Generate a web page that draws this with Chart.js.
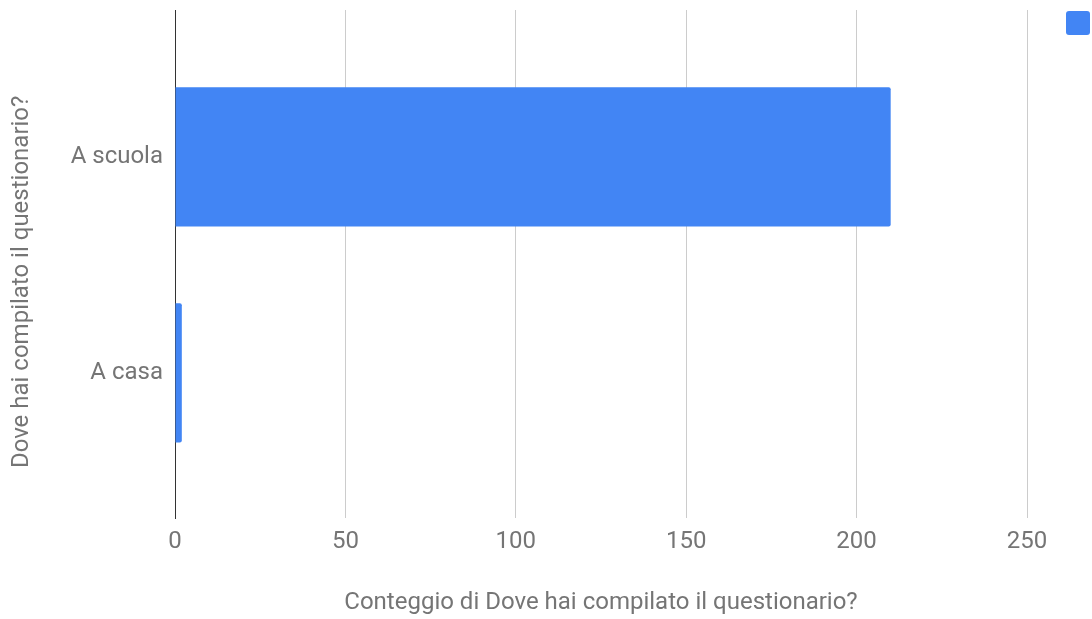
<!DOCTYPE html>
<html>
<head>
<meta charset="utf-8">
<script src="https://cdn.jsdelivr.net/npm/chart.js@4"></script>
<style>
  html, body { margin: 0; padding: 0; background: #fff; }
  #wrap { width: 1092px; height: 619px; }
</style>
</head>
<body>
<div id="wrap"><canvas id="myChart"></canvas></div>
<script>
// dati
var categorie = ['A scuola', 'A casa'];
var conteggi = [210, 2];
var titoloX = 'Conteggio di Dove hai compilato il questionario?';
var titoloY = 'Dove hai compilato il questionario?';

var grigio = '#757575';
var blu = '#4285f4';

// piccolo quadrato di legenda in alto a destra (il testo esce dall'immagine)
var legendaQuadrato = {
    id: 'legendaQuadrato',
    afterDraw: function (chart) {
        var ctx = chart.ctx;
        var colore = chart.data.datasets[0].backgroundColor;
        var lato = 24;
        var x = chart.width - lato - 2;
        var y = 11;
        ctx.save();
        ctx.fillStyle = colore;
        ctx.beginPath();
        ctx.roundRect(x, y, lato, lato, 3);
        ctx.fill();
        ctx.restore();
    }
};

function grafico (labels, valori) {
    var ctx = document.getElementById('myChart').getContext('2d');
    var punti = valori.map(function (v, i) { return {x: v, y: i}; });
    var chart = new Chart(ctx, {
        type: 'bar',
        data: {
            datasets: [{
                label: titoloX,
                backgroundColor: blu,
                borderColor: blu,
                borderRadius: 2,
                borderSkipped: 'start',
                categoryPercentage: 1,
                barPercentage: 0.644,
                data: punti
            }]
        },
        plugins: [legendaQuadrato],
        options: {
            indexAxis: 'y',
            responsive: true,
            maintainAspectRatio: false,
            animation: false,
            layout: { padding: { left: 4, top: 10, right: 65, bottom: 0 } },
            plugins: {
                legend: { display: false },
                tooltip: { enabled: false }
            },
            scales: {
                x: {
                    type: 'linear',
                    min: 0,
                    max: 250,
                    ticks: {
                        stepSize: 50,
                        color: grigio,
                        padding: 10,
                        font: { family: 'Roboto', size: 24 }
                    },
                    grid: { color: '#cccccc', drawTicks: false },
                    border: { display: false },
                    title: {
                        display: true,
                        text: titoloX,
                        color: grigio,
                        padding: { top: 4, bottom: 2 },
                        font: { family: 'Roboto', size: 24 }
                    },
                    afterFit: function (scale) { scale.height = 101; }
                },
                y: {
                    type: 'linear',
                    reverse: true,
                    offset: false,
                    min: -0.68,
                    max: 1.672,
                    afterBuildTicks: function (scale) {
                        scale.ticks = labels.map(function (c, i) { return {value: i}; });
                    },
                    ticks: {
                        color: grigio,
                        padding: 12,
                        font: { family: 'Roboto', size: 24 },
                        callback: function (v) { return labels[v]; }
                    },
                    grid: { display: false, offset: false, drawTicks: false },
                    border: { display: true, color: '#333333', width: 1 },
                    title: {
                        display: true,
                        // spazi finali: il titolo nell'originale sta un po' piu' in basso
                        text: titoloY + '      ',
                        color: grigio,
                        padding: { top: 4, bottom: 4 },
                        font: { family: 'Roboto', size: 24 }
                    },
                    afterFit: function (scale) {
                        scale.width = 171;
                        scale.paddingTop = 0;
                        scale.paddingBottom = 0;
                    }
                }
            }
        }
    });
    return chart;
}

grafico(categorie, conteggi);
</script>
</body>
</html>
